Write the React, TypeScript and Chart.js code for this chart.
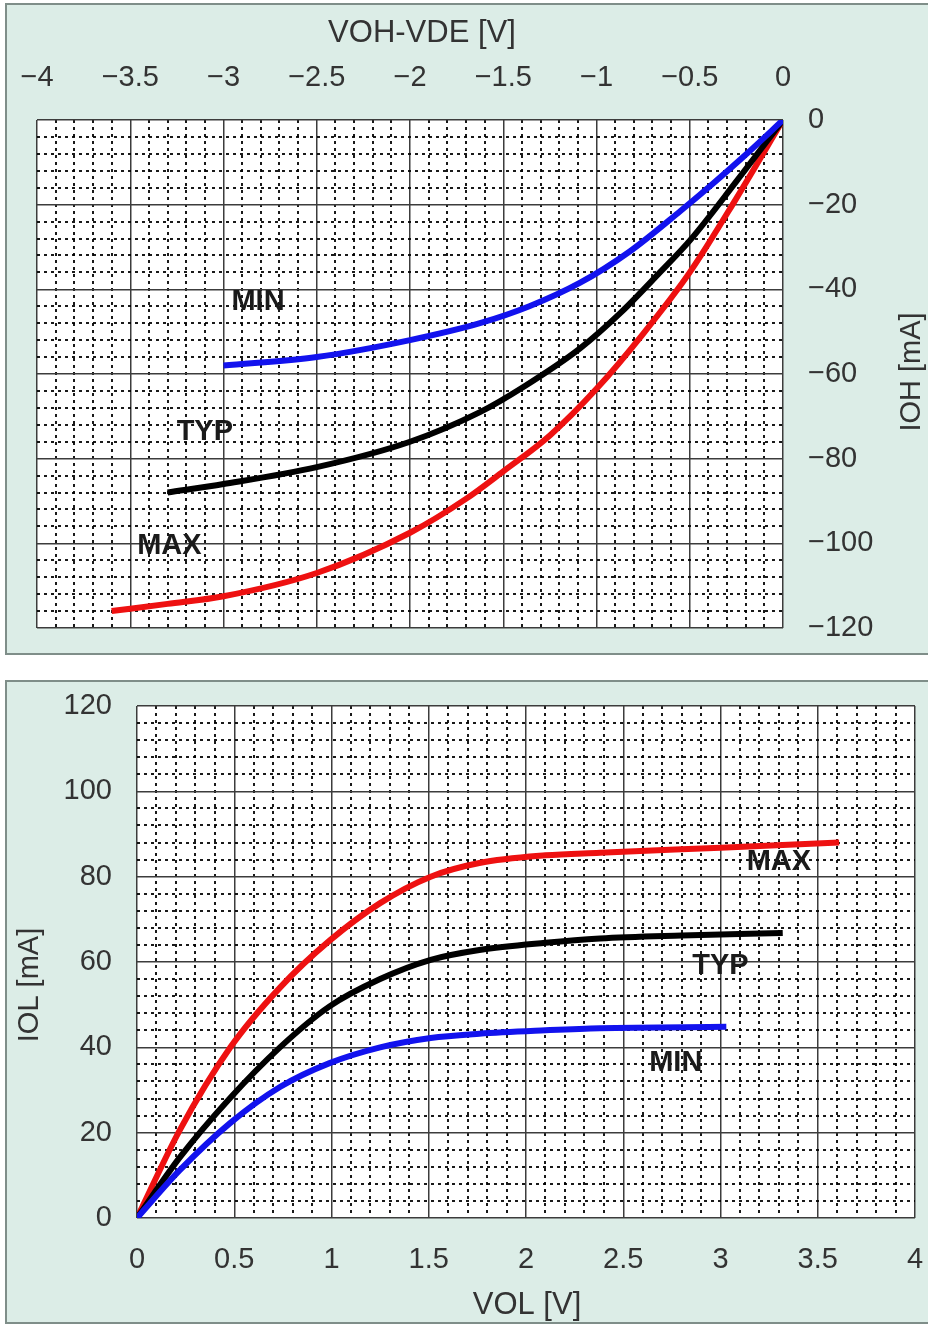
import React, { useEffect, useRef } from "react";
import { Chart, registerables } from "chart.js";

Chart.register(...registerables);

// ---------- Top chart (IOH vs VOH-VDE) ----------
const OH_MIN_X = [-3, -2.5, -2, -1.625, -1.36, -1.09, -0.82, -0.55, -0.375, -0.19, 0];
const OH_MIN_Y = [-58, -56, -52, -48, -44, -38.5, -31, -21.5, -15, -7.8, 0];
const OH_TYP_X = [-3.3, -3, -2.5, -2, -1.625, -1.39, -1.09, -0.87, -0.66, -0.5, -0.25, 0];
const OH_TYP_Y = [-88, -86, -82, -76, -69, -63, -54, -45.5, -36, -28.5, -14.5, 0];
const OH_MAX_X = [-3.6, -3.3, -3, -2.5, -2, -1.7, -1.5, -1.25, -1.0, -0.75, -0.5, -0.25, 0];
const OH_MAX_Y = [-116, -114.3, -112.5, -107, -97.5, -89.5, -83, -74.5, -63.5, -50.5, -36, -18.5, 0];
const OH_X_RANGE = [-4, 0];
const OH_Y_RANGE = [-120, 0];
const OH_X_TITLE = "VOH-VDE [V]";
const OH_Y_TITLE = "IOH [mA]";
const OH_LABEL_TEXT = ["MIN", "TYP", "MAX"];
const OH_LABEL_X = [-2.815, -3.1, -3.29];
const OH_LABEL_Y = [-43, -73.7, -100.6];

// ---------- Bottom chart (IOL vs VOL) ----------
const OL_MAX_X = [0, 0.22, 0.48, 0.735, 0.99, 1.25, 1.51, 1.76, 2.1, 2.38, 3.0, 3.61];
const OL_MAX_Y = [0, 20.6, 40, 54, 65, 73.8, 80, 83.2, 85, 85.6, 86.8, 88];
const OL_TYP_X = [0, 0.22, 0.48, 0.735, 0.99, 1.25, 1.51, 1.76, 2.1, 2.38, 2.8, 3.32];
const OL_TYP_Y = [0, 14.2, 28.2, 40, 49.6, 56, 60.5, 62.8, 64.5, 65.5, 66.2, 66.8];
const OL_MIN_X = [0, 0.22, 0.48, 0.735, 0.99, 1.25, 1.51, 1.76, 2.1, 2.38, 3.03];
const OL_MIN_Y = [0, 11.2, 22.3, 30.7, 36.3, 40, 42.2, 43.2, 44, 44.5, 44.8];
const OL_X_RANGE = [0, 4];
const OL_Y_RANGE = [0, 120];
const OL_X_TITLE = "VOL [V]";
const OL_Y_TITLE = "IOL [mA]";
const OL_LABEL_TEXT = ["MAX", "TYP", "MIN"];
const OL_LABEL_X = [3.3, 3.0, 2.77];
const OL_LABEL_Y = [83.4, 59, 36.3];

const X_MAJOR = 0.5;
const X_MINOR = 0.1;
const Y_MAJOR = 20;
const Y_MINOR = 4;

const FONT = '"Liberation Sans", Arial, sans-serif';
const TEXT_COLOR = "#333";
const PANEL_BG = "#dcede7";
const PANEL_BORDER = "#7f8e89";
const MAJOR_COLOR = "#3c3c3c";
const MINOR_COLOR = "rgba(0,0,0,0.9)";
const RED = "#ee1111";
const BLUE = "#1212ee";
const BLACK = "#000000";

const pts = (xs: number[], ys: number[]) => xs.map((x, i) => ({ x, y: ys[i] }));
const fmt = (v: number) => String(Math.round(v * 10) / 10).replace("-", "\u2212");

type TitleFn = (a: { left: number; right: number; top: number; bottom: number }) => { text: string; x: number; y: number; rot: number; size: number }[];

function makeDecor(labels: { text: string; x: number; y: number }[], titles: TitleFn) {
  return {
    id: "decor",
    beforeDraw(chart: any) {
      const { ctx, chartArea: a } = chart;
      ctx.save();
      ctx.fillStyle = "#ffffff";
      ctx.fillRect(a.left, a.top, a.right - a.left, a.bottom - a.top);
      ctx.restore();
    },
    afterDraw(chart: any) {
      const { ctx, chartArea: a } = chart;
      const xs = chart.scales.x;
      const ys = chart.scales.y;
      ctx.save();
      ctx.font = `bold 29px ${FONT}`;
      ctx.fillStyle = "#1a1a1a";
      ctx.textAlign = "center";
      ctx.textBaseline = "middle";
      labels.forEach((l) => {
        ctx.fillText(l.text, xs.getPixelForValue(l.x), ys.getPixelForValue(l.y));
      });
      ctx.fillStyle = TEXT_COLOR;
      titles(a).forEach((t) => {
        ctx.save();
        ctx.font = `${t.size}px ${FONT}`;
        ctx.translate(t.x, t.y);
        ctx.rotate(t.rot);
        ctx.fillText(t.text, 0, 0);
        ctx.restore();
      });
      ctx.restore();
    },
  };
}

function lineDs(data: { x: number; y: number }[], color: string) {
  return {
    data,
    borderColor: color,
    backgroundColor: color,
    borderWidth: 6,
    pointRadius: 0,
    cubicInterpolationMode: "monotone" as const,
    fill: false,
  };
}

function majorAxis(position: string, range: number[], step: number, fit: (s: any) => void) {
  return {
    type: "linear" as const,
    position,
    min: range[0],
    max: range[1],
    ticks: {
      stepSize: step,
      padding: 0,
      color: TEXT_COLOR,
      font: { family: FONT, size: 29 },
      callback: (v: any) => fmt(Number(v)),
      maxRotation: 0,
      autoSkip: false,
    },
    grid: {
      color: MAJOR_COLOR,
      lineWidth: 1.5,
      drawTicks: true,
      tickLength: 25,
      tickColor: "rgba(0,0,0,0)",
    },
    border: { display: false },
    afterFit: fit,
  };
}

function minorAxis(position: string, range: number[], step: number, fit: (s: any) => void) {
  return {
    type: "linear" as const,
    position,
    min: range[0],
    max: range[1],
    ticks: { stepSize: step, display: false, padding: 0 },
    grid: {
      color: (c: any) => (c.index % 5 === 0 ? "rgba(0,0,0,0)" : MINOR_COLOR),
      lineWidth: 2,
      drawTicks: false,
    },
    border: { display: false, dash: [3, 4] },
    afterFit: fit,
  };
}

function topConfig(): any {
  const labels = OH_LABEL_TEXT.map((t, i) => ({ text: t, x: OH_LABEL_X[i], y: OH_LABEL_Y[i] }));
  return {
    type: "line",
    data: {
      datasets: [
        lineDs(pts(OH_MIN_X, OH_MIN_Y), BLUE),
        lineDs(pts(OH_TYP_X, OH_TYP_Y), BLACK),
        lineDs(pts(OH_MAX_X, OH_MAX_Y), RED),
      ],
    },
    options: {
      animation: false,
      responsive: false,
      layout: { padding: { left: 37, right: 0, top: 0, bottom: 32 } },
      plugins: { legend: { display: false }, tooltip: { enabled: false } },
      scales: {
        x: majorAxis("top", OH_X_RANGE, X_MAJOR, (s) => { s.height = 120; }),
        x2: minorAxis("top", OH_X_RANGE, X_MINOR, (s) => { s.height = 0; }),
        y: majorAxis("right", OH_Y_RANGE, Y_MAJOR, (s) => { s.width = 145; }),
        y2: minorAxis("right", OH_Y_RANGE, Y_MINOR, (s) => { s.width = 0; }),
      },
    },
    plugins: [
      makeDecor(labels, (a) => [
        { text: OH_X_TITLE, x: (a.left + a.right) / 2 + 12, y: a.top - 87, rot: 0, size: 31 },
        { text: OH_Y_TITLE, x: a.right + 129, y: (a.top + a.bottom) / 2 - 2, rot: -Math.PI / 2, size: 29 },
      ]),
    ],
  };
}

function bottomConfig(): any {
  const labels = OL_LABEL_TEXT.map((t, i) => ({ text: t, x: OL_LABEL_X[i], y: OL_LABEL_Y[i] }));
  return {
    type: "line",
    data: {
      datasets: [
        lineDs(pts(OL_MIN_X, OL_MIN_Y), BLUE),
        lineDs(pts(OL_TYP_X, OL_TYP_Y), BLACK),
        lineDs(pts(OL_MAX_X, OL_MAX_Y), RED),
      ],
    },
    options: {
      animation: false,
      responsive: false,
      layout: { padding: { left: 0, right: 13, top: 46, bottom: 0 } },
      plugins: { legend: { display: false }, tooltip: { enabled: false } },
      scales: {
        x: majorAxis("bottom", OL_X_RANGE, X_MAJOR, (s) => { s.height = 108; }),
        x2: minorAxis("bottom", OL_X_RANGE, X_MINOR, (s) => { s.height = 0; }),
        y: majorAxis("left", OL_Y_RANGE, Y_MAJOR, (s) => { s.width = 137; }),
        y2: minorAxis("left", OL_Y_RANGE, Y_MINOR, (s) => { s.width = 0; }),
      },
    },
    plugins: [
      makeDecor(labels, (a) => [
        { text: OL_X_TITLE, x: (a.left + a.right) / 2 + 1, y: a.bottom + 87, rot: 0, size: 31 },
        { text: OL_Y_TITLE, x: a.left - 107, y: (a.top + a.bottom) / 2 + 23, rot: -Math.PI / 2, size: 29 },
      ]),
    ],
  };
}

function ChartCanvas({ make, width, height, top }: { make: () => any; width: number; height: number; top: number }) {
  const ref = useRef<HTMLCanvasElement | null>(null);
  useEffect(() => {
    if (!ref.current) return;
    const chart = new Chart(ref.current, make());
    return () => chart.destroy();
  }, [make]);
  return (
    <canvas
      ref={ref}
      width={width}
      height={height}
      style={{ position: "absolute", left: 0, top, width, height }}
    />
  );
}

export default function App() {
  return (
    <div style={{ position: "absolute", left: 0, top: 0, width: 928, height: 1326, overflow: "hidden", background: "#ffffff" }}>
      <div style={{ position: "absolute", left: 5, top: 3, width: 940, height: 648, background: PANEL_BG, border: `2px solid ${PANEL_BORDER}` }} />
      <div style={{ position: "absolute", left: 5, top: 680, width: 940, height: 640, background: PANEL_BG, border: `2px solid ${PANEL_BORDER}` }} />
      <ChartCanvas make={topConfig} width={928} height={660} top={0} />
      <ChartCanvas make={bottomConfig} width={928} height={666} top={660} />
    </div>
  );
}
